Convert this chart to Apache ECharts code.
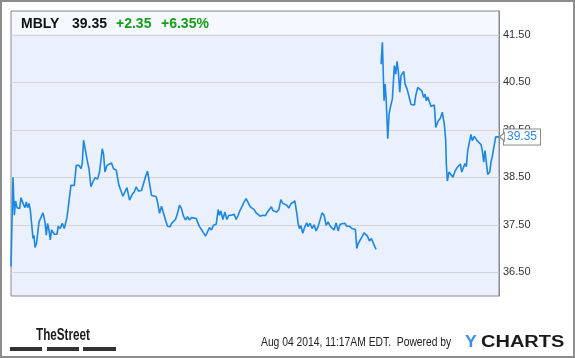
<!DOCTYPE html>
<html>
<head>
<meta charset="utf-8">
<script src="https://cdn.jsdelivr.net/npm/echarts@6/dist/echarts.min.js"></script>
<style>
html, body { margin: 0; padding: 0; background: #fff; }
#chart { width: 575px; height: 358px; }
</style>
</head>
<body>
<div id="chart"></div>
<script>
// header / footer texts
var ticker = 'MBLY';
var lastPrice = '39.35';
var change = '+2.35';
var changePct = '+6.35%';
var stamp = 'Aug 04 2014, 11:17AM EDT.  Powered by';

var yTicks = [36.5, 37.5, 38.5, 39.5, 40.5, 41.5];

// earlier sessions (time position, price)
var prevTimes = [0.7, 2.7, 4, 5.3, 6.7, 9.3, 10.7, 12.7, 14.7, 16, 17.3, 18.7, 20, 21.3, 22.7, 23.7, 24.7, 26.3, 28.7, 30.7,
    32.7, 34.7, 36, 37.3, 38.7, 40, 41.3, 44, 46.7, 48, 50, 52, 54, 56.7, 58.7, 60.7, 62, 64, 66, 68.7,
    70.7, 72, 73.3, 75.3, 77.3, 78.7, 80.7, 82.7, 84.7, 87.3, 89.3, 92, 93.3, 94.7, 96.7, 98.7, 101.3, 103.3, 106, 108.7,
    110.7, 112.7, 114.7, 116.7, 119.3, 122, 124, 126, 128, 130, 131.3, 133.3, 135.3, 137.3, 139.3, 141.3, 143.3, 146, 147.3, 149.3,
    151.3, 153.3, 155.3, 157.3, 160, 161.3, 163.3, 165.3, 167.3, 169.3, 171.3, 173.3, 175.3, 177.3, 179.3, 181.3, 183.3, 186, 188, 189.3,
    191.3, 193.3, 195.3, 197.3, 199.3, 201.3, 203.3, 206, 208, 209.3, 210.7, 212.7, 214.7, 216.7, 218.7, 221.3, 224, 226, 228, 230,
    232, 234, 236, 238, 240, 242, 244, 246, 248, 250, 252.7, 255.3, 257.3, 259.3, 261.3, 262.7, 264.7, 266.7, 268.7, 270.7,
    272.7, 274.7, 276.7, 278.7, 280.7, 282.7, 284.7, 286.7, 288, 289.3, 290.7, 292.7, 294.7, 296.7, 298, 300, 302, 304, 306, 308,
    310, 312, 314, 316, 318, 320, 322, 324, 326, 328, 330, 332, 334.7, 336.7, 339.3, 342, 344, 345.3, 346.7, 348,
    350, 352, 354, 356, 357.3, 359.3, 361.3, 363.3, 364.7, 366];
var prevPrices = [36.62, 38.50, 37.70, 38.00, 37.86, 37.84, 38.07, 37.95, 37.86, 37.98, 37.86, 37.95, 37.81, 37.53, 37.21, 37.28, 37.02, 37.11, 37.56, 37.60,
    37.75, 37.56, 37.28, 37.53, 37.39, 37.18, 37.39, 37.30, 37.30, 37.47, 37.42, 37.53, 37.42, 37.65, 37.67, 38.33, 38.30, 38.33, 38.75, 38.75,
    38.68, 38.79, 39.28, 39.30, 38.82, 38.68, 38.30, 38.40, 38.49, 38.46, 38.61, 39.10, 38.99, 38.61, 38.75, 38.72, 38.80, 38.68, 38.65, 38.33,
    38.37, 38.10, 38.12, 38.28, 38.02, 38.14, 38.19, 38.30, 38.21, 38.25, 38.22, 38.25, 38.51, 38.63, 38.64, 38.12, 38.09, 38.09, 37.98, 37.74,
    37.89, 37.86, 37.60, 37.47, 37.46, 37.53, 37.56, 37.61, 37.74, 37.91, 37.84, 37.68, 37.60, 37.67, 37.60, 37.65, 37.63, 37.63, 37.61, 37.46,
    37.40, 37.33, 37.26, 37.35, 37.44, 37.39, 37.49, 37.51, 37.82, 37.70, 37.79, 37.61, 37.77, 37.61, 37.70, 37.70, 37.72, 37.61, 37.70, 37.81,
    37.89, 37.98, 38.05, 38.02, 37.88, 37.85, 37.82, 37.75, 37.72, 37.68, 37.70, 37.69, 37.77, 37.81, 37.88, 37.80, 37.81, 37.77, 37.82, 38.03,
    37.95, 37.94, 37.91, 37.85, 37.94, 37.95, 38.00, 37.74, 37.53, 37.42, 37.48, 37.32, 37.46, 37.54, 37.46, 37.53, 37.42, 37.50, 37.37, 37.46,
    37.46, 37.75, 37.70, 37.49, 37.56, 37.47, 37.46, 37.39, 37.54, 37.37, 37.51, 37.53, 37.53, 37.47, 37.47, 37.42, 37.44, 37.40, 37.00, 37.10,
    37.09, 37.25, 37.33, 37.37, 37.26, 37.16, 37.21, 37.19, 37.04, 36.98];

// today's session
var todayTimes = [371, 372.3, 373.3, 374, 375, 376, 377.7, 379, 380.3, 382.3, 384.3, 385.7, 387, 388.3, 389.7, 391, 392.3, 393.7, 395, 397,
    399, 401, 403, 404.3, 405.7, 407.7, 409.7, 411.7, 413.7, 415, 416.3, 417.7, 419.7, 421, 423, 424.3, 425.7, 427, 428.3, 430.3,
    432.3, 434.3, 435.7, 436.3, 437.3, 439, 441, 443, 445, 447, 448.3, 450.3, 451.7, 453.7, 455, 456.3, 457.7, 459.7, 461, 462.3,
    464.3, 465.7, 467, 469, 471, 472.3, 473.7, 475, 476.3, 477.7, 479.7, 481, 482.3, 484.3, 485.7, 489];
var todayPrices = [40.88, 41.34, 41.37, 40.11, 40.46, 40.18, 39.31, 39.83, 39.97, 40.15, 40.85, 40.67, 40.94, 40.73, 40.29, 40.64, 40.62, 40.73, 40.46, 40.36,
    40.34, 40.03, 40.00, 40.02, 40.22, 40.39, 40.39, 40.32, 40.18, 40.25, 40.11, 40.19, 40.18, 39.99, 40.00, 40.02, 39.55, 39.59, 39.69, 39.74,
    39.87, 39.61, 39.27, 38.78, 38.42, 38.61, 38.60, 38.50, 38.63, 38.70, 38.68, 38.78, 38.61, 38.72, 38.79, 38.72, 39.06, 39.27, 39.40, 39.27,
    39.36, 39.38, 39.27, 39.26, 39.19, 39.06, 38.82, 39.06, 38.82, 38.56, 38.61, 38.82, 38.94, 38.96, 39.35, 39.35];

function pairs(ts, ps) {
    var out = [];
    for (var i = 0; i < ts.length; i++) out.push([ts[i], ps[i]]);
    return out;
}

var font = '"Liberation Sans", Arial, sans-serif';
var lineColor = '#1b87e6';
var lastIdx = todayTimes.length - 1;

var myChart = echarts.init(document.getElementById('chart'));

var option = {
    animation: false,
    backgroundColor: '#fff',
    grid: {
        left: 11, right: 76, top: 11, bottom: 62,
        show: true,
        backgroundColor: '#eaf0fc',
        borderColor: '#8a8a8a',
        borderWidth: 1
    },
    xAxis: {
        type: 'value',
        min: prevTimes[0],
        max: todayTimes[lastIdx],
        axisLine: { show: false },
        axisTick: { show: false },
        axisLabel: { show: false },
        splitLine: { show: false }
    },
    yAxis: {
        type: 'value',
        position: 'right',
        min: 36,
        max: 42,
        axisLine: { show: true, lineStyle: { color: '#8a8a8a', width: 1 } },
        axisTick: { show: false, customValues: yTicks },
        axisLabel: {
            customValues: yTicks,
            color: '#333',
            fontSize: 11,
            fontFamily: font,
            margin: 4,
            formatter: function (v) { return v.toFixed(2); }
        },
        splitLine: { show: true, lineStyle: { color: '#d4d4d4', width: 1 } }
    },
    series: [
        {
            type: 'line',
            data: pairs(prevTimes, prevPrices),
            showSymbol: false,
            lineStyle: { color: lineColor, width: 1.6 },
            z: 3
        },
        {
            type: 'line',
            data: pairs(todayTimes, todayPrices),
            showSymbol: false,
            lineStyle: { color: lineColor, width: 1.6 },
            z: 3,
            endLabel: {
                show: true,
                formatter: function (p) { return p.value[1].toFixed(2); },
                color: '#2a8ae8',
                fontSize: 12,
                fontFamily: font,
                backgroundColor: '#fff',
                borderColor: '#8a8a8a',
                borderWidth: 1,
                padding: [2, 3, 1, 3],
                distance: 5
            },
            markPoint: {
                symbol: 'triangle',
                symbolSize: [8, 5],
                symbolRotate: 90,
                symbolOffset: [3, 0],
                itemStyle: { color: '#fff', borderColor: '#8a8a8a', borderWidth: 1 },
                label: { show: false },
                data: [{ coord: [todayTimes[lastIdx], todayPrices[lastIdx]] }]
            }
        }
    ],
    graphic: [
        // outer frame
        { type: 'rect', shape: { x: 1, y: 1, width: 573, height: 356 }, style: { fill: 'none', stroke: '#8c8c8c', lineWidth: 2 }, z: 10 },
        // header band
        { type: 'rect', shape: { x: 12, y: 12, width: 486, height: 22 }, style: { fill: '#f5f8fe' }, z: 1 },
        { type: 'text', x: 21, y: 24, style: { text: ticker, fill: '#111', font: 'bold 14px ' + font, verticalAlign: 'middle' }, z: 10 },
        { type: 'text', x: 72, y: 24, style: { text: lastPrice, fill: '#111', font: 'bold 14px ' + font, verticalAlign: 'middle' }, z: 10 },
        { type: 'text', x: 116, y: 24, style: { text: change, fill: '#16a016', font: 'bold 14px ' + font, verticalAlign: 'middle' }, z: 10 },
        { type: 'text', x: 161, y: 24, style: { text: changePct, fill: '#16a016', font: 'bold 14px ' + font, verticalAlign: 'middle' }, z: 10 },
        // TheStreet logo
        { type: 'text', x: 36, y: 336, scaleX: 0.73, style: { text: 'TheStreet', fill: '#1a1a1a', font: 'bold 16px ' + font, verticalAlign: 'middle' }, z: 10 },
        { type: 'rect', shape: { x: 10, y: 347, width: 32, height: 4 }, style: { fill: '#333' }, z: 10 },
        { type: 'rect', shape: { x: 47, y: 347, width: 32, height: 4 }, style: { fill: '#333' }, z: 10 },
        { type: 'rect', shape: { x: 83, y: 347, width: 33, height: 4 }, style: { fill: '#333' }, z: 10 },
        // footer
        { type: 'text', x: 261, y: 343, scaleX: 0.86, style: { text: stamp, fill: '#222', font: '12px ' + font, verticalAlign: 'middle' }, z: 10 },
        { type: 'text', x: 465, y: 343, scaleX: 1.1, style: { text: 'Y', fill: '#3b8ef0', font: 'bold 16px ' + font, verticalAlign: 'middle' }, z: 10 },
        { type: 'text', x: 481, y: 343, scaleX: 1.25, style: { text: 'CHARTS', fill: '#1a1a1a', font: 'bold 16px ' + font, verticalAlign: 'middle' }, z: 10 }
    ]
};

myChart.setOption(option);
</script>
</body>
</html>
